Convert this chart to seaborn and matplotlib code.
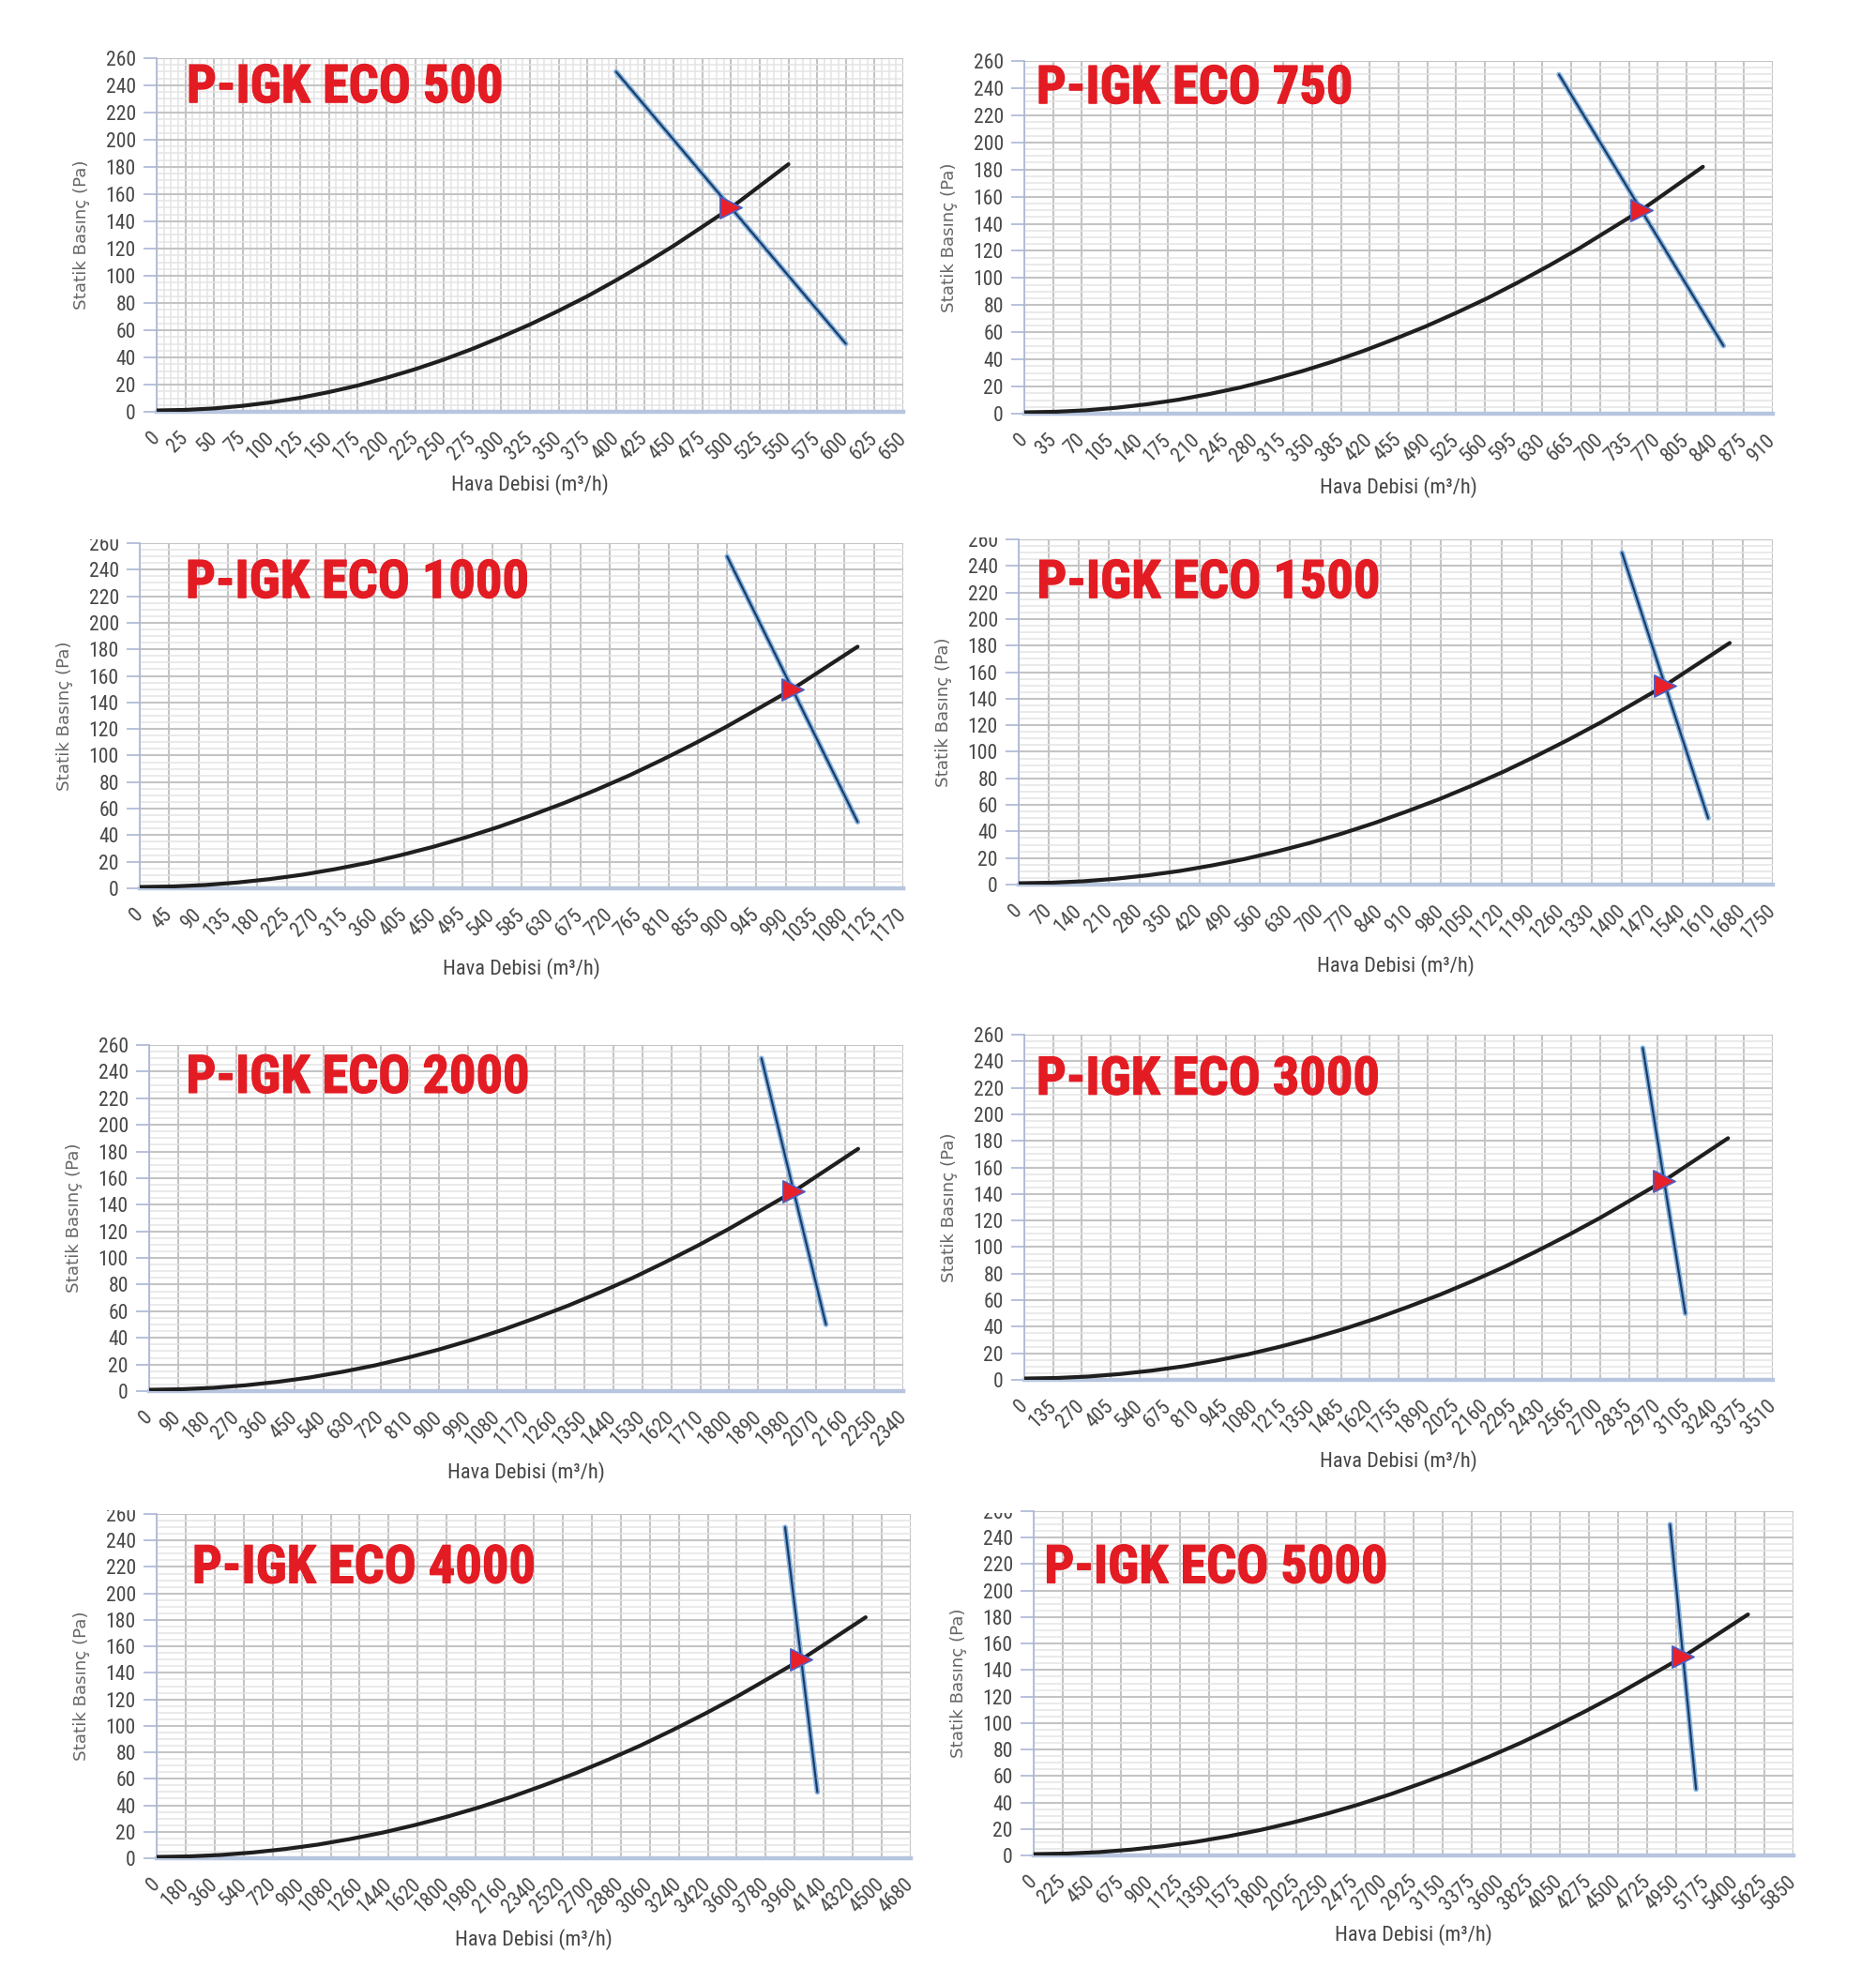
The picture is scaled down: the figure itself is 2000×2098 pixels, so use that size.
import os
import matplotlib
matplotlib.use("Agg")

import numpy                as np
import pandas               as pd
import seaborn              as sns
import matplotlib.pyplot    as plt
import matplotlib.patheffects as pe

from matplotlib             import font_manager as fm
from matplotlib.ticker      import MultipleLocator, FormatStrFormatter
from matplotlib.transforms  import Bbox, TransformedBbox

# ============================================================ DATA ============================================================

MODELS    = ["P-IGK ECO 500", "P-IGK ECO 750", "P-IGK ECO 1000", "P-IGK ECO 1500",
             "P-IGK ECO 2000", "P-IGK ECO 3000", "P-IGK ECO 4000", "P-IGK ECO 5000"]
TICK_STEP = [25, 35, 45, 70, 90, 135, 180, 225]
X_MAX     = [650, 910, 1170, 1750, 2340, 3510, 4680, 5850]

# system curve (Pa) at the flows listed below
SYS_PA = [1, 1.4, 2.5, 4.4, 7, 10.3, 14.5, 19.3, 25, 31.3, 38.4, 46.3,
          55, 64.2, 74.3, 85, 96.7, 109, 122, 136, 150, 166, 182]

sys_flow_500  = [0, 25, 50, 75, 100, 125, 150, 175, 200, 225, 250, 275,
                 300, 325, 350, 375, 400, 425, 450, 475, 500, 525, 550]
sys_flow_750  = [0, 37.5, 75, 112.5, 150, 187.5, 225, 262.5, 300, 337.5, 375, 412.5,
                 450, 487.5, 525, 562.5, 600, 637.5, 675, 712.5, 750, 787.5, 825]
sys_flow_1000 = [0, 50, 100, 150, 200, 250, 300, 350, 400, 450, 500, 550,
                 600, 650, 700, 750, 800, 850, 900, 950, 1000, 1050, 1100]
sys_flow_1500 = [0, 75, 150, 225, 300, 375, 450, 525, 600, 675, 750, 825,
                 900, 975, 1050, 1125, 1200, 1275, 1350, 1425, 1500, 1575, 1650]
sys_flow_2000 = [0, 100, 200, 300, 400, 500, 600, 700, 800, 900, 1000, 1100,
                 1200, 1300, 1400, 1500, 1600, 1700, 1800, 1900, 2000, 2100, 2200]
sys_flow_3000 = [0, 150, 300, 450, 600, 750, 900, 1050, 1200, 1350, 1500, 1650,
                 1800, 1950, 2100, 2250, 2400, 2550, 2700, 2850, 3000, 3150, 3300]
sys_flow_4000 = [0, 200, 400, 600, 800, 1000, 1200, 1400, 1600, 1800, 2000, 2200,
                 2400, 2600, 2800, 3000, 3200, 3400, 3600, 3800, 4000, 4200, 4400]
sys_flow_5000 = [0, 250, 500, 750, 1000, 1250, 1500, 1750, 2000, 2250, 2500, 2750,
                 3000, 3250, 3500, 3750, 4000, 4250, 4500, 4750, 5000, 5250, 5500]

# fan line end points
FAN_PA        = [250, 50]
fan_flow_500  = [400, 600]
fan_flow_750  = [650, 850]
fan_flow_1000 = [900, 1100]
fan_flow_1500 = [1400, 1600]
fan_flow_2000 = [1900, 2100]
fan_flow_3000 = [2900, 3100]
fan_flow_4000 = [3900, 4100]
fan_flow_5000 = [4900, 5100]

# operating point
OP_FLOW = [500, 750, 1000, 1500, 2000, 3000, 4000, 5000]
OP_PA   = 150

SYS_FLOWS = [sys_flow_500, sys_flow_750, sys_flow_1000, sys_flow_1500,
             sys_flow_2000, sys_flow_3000, sys_flow_4000, sys_flow_5000]
FAN_FLOWS = [fan_flow_500, fan_flow_750, fan_flow_1000, fan_flow_1500,
             fan_flow_2000, fan_flow_3000, fan_flow_4000, fan_flow_5000]

# ============================================================ LAYOUT ============================================================

W, H = 2000, 2098
# axes rectangles in pixels: left, right, top, bottom
RECTS = [(167, 963, 62, 439), (1092, 1890, 65, 441),
         (149, 963, 579, 947), (1086, 1890, 575, 943),
         (159, 963, 1114, 1483), (1092, 1890, 1103, 1471),
         (167, 971, 1614, 1981), (1102, 1912, 1611, 1978)]
TITLE_POS  = [(0.040, 0.875), (0.016, 0.880), (0.060, 0.842), (0.024, 0.831),
              (0.049, 0.862), (0.016, 0.827), (0.047, 0.800), (0.014, 0.792)]
XLABEL_OFF = [78, 79, 86, 87, 87, 87, 87, 85]
TOP_CUT    = {2: 4, 3: 2, 6: 4, 7: -2}       # picture is cropped through the "260" label

RED = "#e31b23"


def find_font(prefixes):
    files = sorted({os.path.basename(f.fname).lower(): f.fname for f in fm.fontManager.ttflist}.items())
    for p in prefixes:
        for k, v in files:
            if k.startswith(p):
                return v
    return None


bold_file = find_font(["liberationsansnarrow-bold.", "robotocondensed-bold.", "roboto-bold.",
                       "dejavusanscondensed-bold.", "liberationsans-bold."])
reg_file  = find_font(["liberationsansnarrow-regular.", "robotocondensed-regular.",
                       "dejavusanscondensed.", "roboto-regular.", "liberationsans-regular."])
FP_BOLD = fm.FontProperties(fname=bold_file) if bold_file else fm.FontProperties(family="DejaVu Sans", weight="bold")
FP_REG  = fm.FontProperties(fname=reg_file) if reg_file else fm.FontProperties(family="DejaVu Sans")

sns.set_theme(style="white")
plt.rcParams["font.family"] = ["DejaVu Sans"]

fig = plt.figure(figsize=(W / 200, H / 200), dpi=200)
titles, xlabels, ylabels = [], [], []

for i, name in enumerate(MODELS):
    x0, x1, yt, yb = RECTS[i]
    step = TICK_STEP[i]
    ax = fig.add_axes([x0 / W, 1 - yb / H, (x1 - x0) / W, (yb - yt) / H])
    ax.set_facecolor("white")

    ax.set_xlim(0, X_MAX[i])
    ax.set_ylim(0, 260)
    ax.xaxis.set_major_locator(MultipleLocator(step))
    ax.yaxis.set_major_locator(MultipleLocator(20))
    ax.yaxis.set_minor_locator(MultipleLocator(5))
    if i == 0:
        ax.xaxis.set_minor_locator(MultipleLocator(step / 4))
    ax.xaxis.set_major_formatter(FormatStrFormatter("%d"))
    ax.yaxis.set_major_formatter(FormatStrFormatter("%d"))

    ax.set_axisbelow(True)
    ax.grid(which="major", color="#c4c4c4", lw=0.75)
    ax.grid(which="minor", color="#e4e4e4", lw=0.55)

    for s in ["top", "right"]:
        ax.spines[s].set_visible(False)
    ax.spines["left"].set_color("#aab6d6")
    ax.spines["left"].set_linewidth(0.6)
    ax.spines["bottom"].set_color("#b7c5df")
    ax.spines["bottom"].set_linewidth(1.6)

    ax.tick_params(axis="y", which="major", direction="out", length=5, width=0.6, color="#aab6d6",
                   pad=3, labelcolor="#484848", left=True)
    ax.tick_params(axis="x", which="major", length=0, pad=9, labelcolor="#484848")
    ax.tick_params(which="minor", length=0)
    for lab in ax.get_yticklabels():
        lab.set_fontproperties(FP_REG)
        lab.set_fontsize(7.8)
    for lab in ax.get_xticklabels():
        lab.set_fontproperties(FP_REG)
        lab.set_fontsize(7.8)
        lab.set_rotation(45)
        lab.set_ha("right")
        lab.set_va("center")
        lab.set_rotation_mode("anchor")

    # system curve
    df_sys = pd.DataFrame({"flow": SYS_FLOWS[i], "pa": SYS_PA})
    sns.lineplot(data=df_sys, x="flow", y="pa", ax=ax, color="#1f1f1f", lw=1.5,
                 sort=False, solid_capstyle="round", solid_joinstyle="round", zorder=3)

    # fan line
    df_fan = pd.DataFrame({"flow": FAN_FLOWS[i], "pa": FAN_PA})
    sns.lineplot(data=df_fan, x="flow", y="pa", ax=ax, color="#1a3d68", lw=0.8, sort=False, zorder=4,
                 path_effects=[pe.Stroke(linewidth=2.0, foreground="#86b3e0"), pe.Normal()])

    # operating point
    sns.scatterplot(x=[OP_FLOW[i]], y=[OP_PA], ax=ax, marker=">", s=70, color="#e8202a",
                    edgecolor="#4b5fc4", linewidth=0.6, zorder=6)

    t = ax.text(TITLE_POS[i][0], TITLE_POS[i][1], name, transform=ax.transAxes, color=RED,
                fontproperties=FP_BOLD, fontsize=21, ha="left", va="baseline",
                path_effects=[pe.withStroke(linewidth=0.45, foreground=RED)])
    titles.append(t)

    ax.set_xlabel("Hava Debisi (m³/h)", color="#454545", fontproperties=FP_REG, fontsize=8)
    ax.xaxis.set_label_coords(0.5, -XLABEL_OFF[i] / (yb - yt))
    ax.xaxis.label.set_va("center")
    xlabels.append(ax.xaxis.label)

    ax.set_ylabel("Statik Basınç (Pa)", fontsize=6.5, color="#666666", family=["DejaVu Sans"])
    ax.yaxis.set_label_coords(-80 / (x1 - x0), 0.5)
    ax.yaxis.label.set_va("center")
    ylabels.append(ax.yaxis.label)

    if i in TOP_CUT:
        cut = 1 - (yt - TOP_CUT[i]) / H
        for tk in ax.yaxis.get_major_ticks():
            if abs(tk.get_loc() - 260) < 1e-6:
                tk.label1.set_clip_box(TransformedBbox(Bbox.from_extents(0, 0, 1, cut), fig.transFigure))
                tk.label1.set_clip_on(True)

# fit text sizes to the widths measured on the picture
fig.canvas.draw()
rend = fig.canvas.get_renderer()
k_title = 338 / titles[0].get_window_extent(rend).width
for t in titles:
    t.set_fontsize(t.get_fontsize() * k_title)
k_x = 168 / xlabels[0].get_window_extent(rend).width
for t in xlabels:
    t.set_fontsize(t.get_fontsize() * k_x)
k_y = 160 / ylabels[0].get_window_extent(rend).height
for t in ylabels:
    t.set_fontsize(t.get_fontsize() * k_y)

fig.savefig("out.png", dpi=200, facecolor="white")
